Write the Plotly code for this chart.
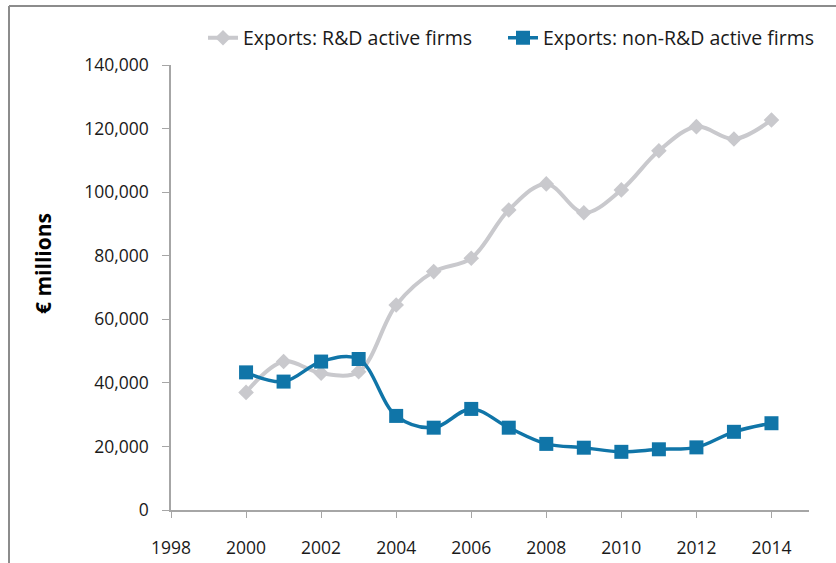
import plotly.graph_objects as go

years = [2000, 2001, 2002, 2003, 2004, 2005, 2006, 2007, 2008, 2009, 2010, 2011, 2012, 2013, 2014]
rd_active = [37000, 46700, 43000, 43500, 64500, 75000, 79200, 94400, 102600, 93500, 100700, 113000, 120600, 116700, 122700]
non_rd_active = [43300, 40400, 46700, 47500, 29600, 25900, 31800, 25900, 20800, 19600, 18300, 19100, 19700, 24600, 27300]

x_ticks = [1998, 2000, 2002, 2004, 2006, 2008, 2010, 2012, 2014]
y_ticks = [0, 20000, 40000, 60000, 80000, 100000, 120000, 140000]
y_tick_labels = ["0", "20,000", "40,000", "60,000", "80,000", "100,000", "120,000", "140,000"]

FONT = "Open Sans"
W, H = 836, 563
L, R, T, B = 171, 27, 65, 53
pw, ph = W - L - R, H - T - B

fig = go.Figure()
fig.add_trace(go.Scatter(
    x=years, y=rd_active, name="Exports: R&D active firms", legend="legend",
    mode="lines+markers", line=dict(color="#C9C9CD", width=4, shape="spline", smoothing=1),
    marker=dict(symbol="diamond", size=12, color="#C9C9CD"),
))
fig.add_trace(go.Scatter(
    x=years, y=non_rd_active, name="Exports: non-R&D active firms", legend="legend2",
    mode="lines+markers", line=dict(color="#1075A8", width=3.5, shape="spline", smoothing=1),
    marker=dict(symbol="square", size=14, color="#1075A8"),
))

def px_x(x):
    return (x - L) / pw

def px_y(y):
    return 1 + (T - y) / ph

leg_common = dict(orientation="h", xref="container", yref="container", xanchor="left", yanchor="middle",
                  font=dict(size=19.5, family=FONT, color="#1a1a1a"), bgcolor="rgba(0,0,0,0)",
                  itemwidth=30, borderwidth=0)

fig.update_layout(
    width=W, height=H,
    margin=dict(l=L, r=R, t=T, b=B, pad=0),
    paper_bgcolor="white", plot_bgcolor="white",
    font=dict(family=FONT, size=17, color="#1a1a1a"),
    showlegend=True,
    legend=dict(x=203 / W, y=1 - 38 / H, **leg_common),
    legend2=dict(x=503 / W, y=1 - 38 / H, **leg_common),
    xaxis=dict(range=[1998, 2015], tickvals=x_ticks, ticktext=[str(t) for t in x_ticks],
               showgrid=False, zeroline=False, showline=True, linecolor="#A6A6A6", linewidth=1.5,
               ticks="outside", ticklen=6, tickcolor="#A6A6A6", tickwidth=1,
               ticklabelstandoff=15, automargin=False,
               tickfont=dict(size=17.5, family=FONT), fixedrange=True),
    yaxis=dict(range=[0, 140000], tickvals=y_ticks, ticktext=y_tick_labels,
               showgrid=False, zeroline=False, showline=True, linecolor="#A6A6A6", linewidth=1.5,
               ticks="outside", ticklen=7, tickcolor="#A6A6A6", tickwidth=1,
               ticklabelstandoff=10, automargin=False,
               tickfont=dict(size=17.5, family=FONT), fixedrange=True),
    annotations=[
        dict(text="<b>€ millions</b>", xref="paper", yref="paper", x=px_x(43), y=px_y(264),
             xanchor="center", yanchor="middle", textangle=-90, showarrow=False,
             font=dict(size=21, family=FONT, color="#000000")),
    ],
    shapes=[
        dict(type="line", xref="paper", yref="paper", x0=px_x(9), x1=px_x(840), y0=px_y(6), y1=px_y(6),
             line=dict(color="#8C8C8C", width=2)),
        dict(type="line", xref="paper", yref="paper", x0=px_x(9), x1=px_x(9), y0=px_y(6), y1=px_y(570),
             line=dict(color="#8C8C8C", width=2)),
    ],
)

fig.write_html("out.html", config={"displayModeBar": False},
               post_script="document.body.style.margin='0';document.body.style.overflow='hidden';")
